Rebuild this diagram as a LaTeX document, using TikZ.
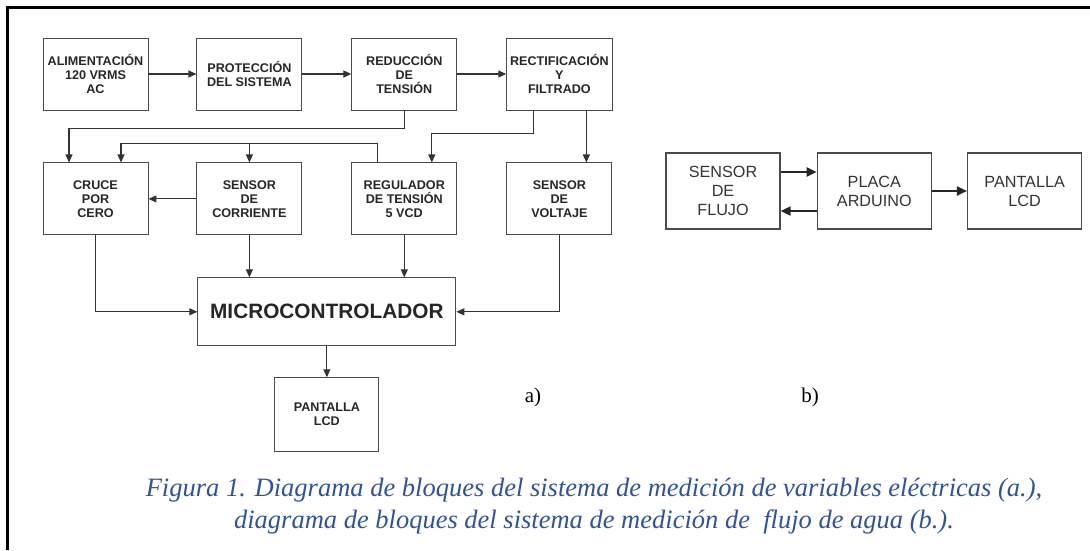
\documentclass[tikz,border=0pt]{standalone}
\usepackage{fontspec}
\setmainfont{Liberation Serif}
\newfontfamily\arialfont{Liberation Sans}
\usepackage{xcolor}
\usetikzlibrary{arrows.meta,positioning,calc}

\definecolor{capblue}{HTML}{2F5496}
\definecolor{boxgray}{HTML}{4A4A4A}

\begin{document}
\begin{tikzpicture}[
  x=1pt, y=-1pt,
  node distance=52pt and 48pt,
  box/.style={rectangle, draw=boxgray, line width=0.9pt, minimum width=105pt, minimum height=72pt, align=center,
    font=\arialfont\bfseries\fontsize{12.6}{14}\selectfont, text=black!85},
  bigbox/.style={box, minimum width=258pt, minimum height=68pt, font=\arialfont\bfseries\fontsize{20.8}{24}\selectfont},
  smallbox/.style={box, minimum width=104pt, minimum height=74pt},
  flowbox/.style={rectangle, draw=boxgray, line width=1.3pt, minimum width=114pt, minimum height=76pt, align=center,
    font=\arialfont\fontsize{16.2}{19}\selectfont, text=black!80},
  arr/.style={-{Triangle[length=8pt, width=7pt]}, line width=1.1pt, draw=black!80},
  barr/.style={-{Triangle[length=10pt, width=9pt]}, line width=2pt, draw=black!85}
]
\useasboundingbox (0,0) rectangle (1090,550);
\draw[line width=3pt] (7,550) -- (7,7) -- (1090,7);

% a) sistema de variables electricas
\node[box] (alim) at (95.5,74) {ALIMENTACIÓN\\120 VRMS\\AC};
\node[box, right=of alim] (prot) {PROTECCIÓN\\DEL SISTEMA};
\node[box, right=49pt of prot] (red) {REDUCCIÓN\\DE\\TENSIÓN};
\node[box, right=49pt of red] (rect) {RECTIFICACIÓN\\Y\\FILTRADO};

\node[box, below=of alim] (cruce) {CRUCE\\POR\\CERO};
\node[box, below=of prot] (corr) {SENSOR\\DE\\CORRIENTE};
\node[box, below=of red] (reg) {REGULADOR\\DE TENSIÓN\\5 VCD};
\node[box, below=of rect] (volt) {SENSOR\\DE\\VOLTAJE};

\coordinate (mid) at ($(corr.south)!.5!(reg.south)$);
\node[bigbox, below=42pt of mid] (micro) {MICROCONTROLADOR};
\node[smallbox, below=31pt of micro] (lcd) {PANTALLA\\LCD};

\draw[arr] (alim) -- (prot);
\draw[arr] (prot) -- (red);
\draw[arr] (red) -- (rect);

\draw[arr] (red.south) -- ++(0,18) -| ([xshift=-26.5pt]cruce.north);
\draw[arr] ([xshift=-26pt]rect.south) -- ++(0,23) -| ([xshift=27.5pt]reg.north);
\draw[arr] ([xshift=27pt]rect.south) -- ([xshift=27pt]volt.north);
\draw[arr] ([xshift=-26.5pt]reg.north) -- ++(0,-19) coordinate (bus) -| ([xshift=25.5pt]cruce.north);
\draw[arr] (corr.north |- bus) -- (corr.north);
\draw[arr] (corr) -- (cruce);

\draw[arr] (cruce.south) |- (micro.west);
\draw[arr] (corr.south) -- (corr.south |- micro.north);
\draw[arr] (reg.south) -- (reg.south |- micro.north);
\draw[arr] (volt.south) |- (micro.east);
\draw[arr] (micro) -- (lcd);

\node[font=\fontsize{21}{24}\selectfont] (la) at (533,397) {a)};

% b) sistema de flujo de agua
\node[flowbox] (flujo) at (723,191) {SENSOR\\DE\\FLUJO};
\node[flowbox, right=36pt of flujo] (placa) {PLACA\\ARDUINO};
\node[flowbox, right=35pt of placa] (lcdb) {PANTALLA\\LCD};

\draw[barr] ([yshift=19pt]flujo.east) -- ([yshift=19pt]placa.west);
\draw[barr] ([yshift=-20pt]placa.west) -- ([yshift=-20pt]flujo.east);
\draw[barr] (placa) -- (lcdb);

\node[font=\fontsize{21}{24}\selectfont] (lb) at (810,397) {b)};

\node[font=\itshape\fontsize{26.5}{32}\selectfont, text=capblue, align=center] (cap) at (594,506)
  {Figura 1. Diagrama de bloques del sistema de medición de variables eléctricas (a.),\\
   diagrama de bloques del sistema de medición de \ flujo de agua (b.).};
\end{tikzpicture}
\end{document}
